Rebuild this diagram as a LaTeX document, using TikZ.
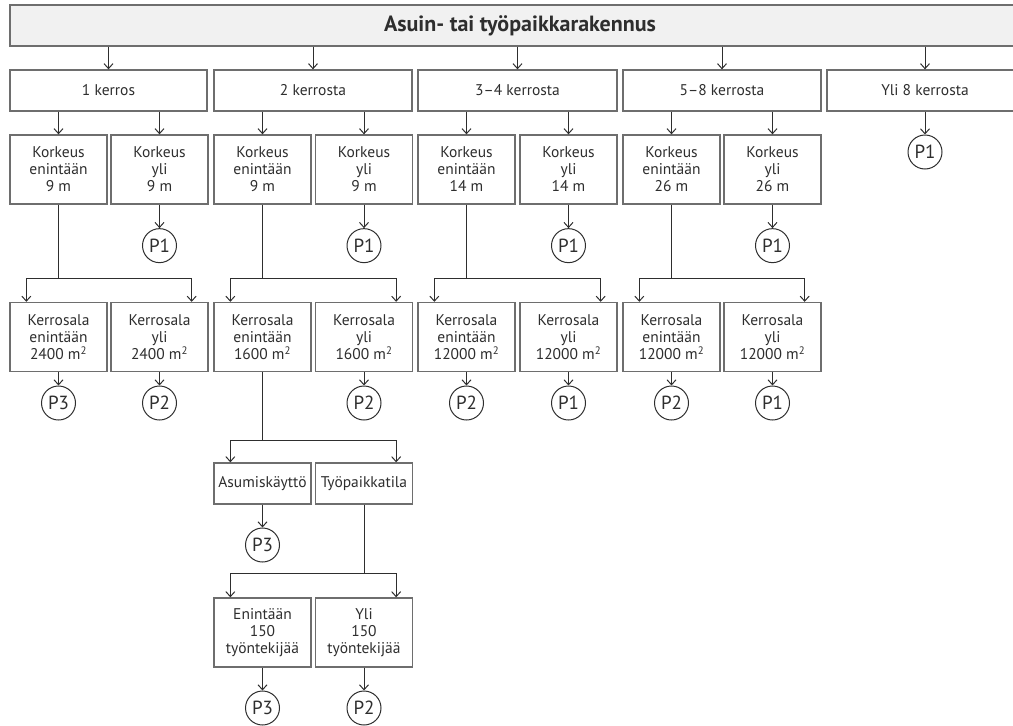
\documentclass[tikz,border=0pt]{standalone}
\usepackage{fontspec}
\setmainfont{PT Sans}
\usepackage{xcolor}
\usetikzlibrary{arrows.meta,positioning}
\definecolor{ink}{HTML}{2E2E2E}
\definecolor{frame}{HTML}{6E6E6E}
\definecolor{bar}{HTML}{F1F1F1}

\begin{document}
\begin{tikzpicture}[x=1pt, y=-1pt, font=\fontsize{15.5}{17}\selectfont, text=ink,
  box/.style={draw=frame, line width=1.3pt, fill=white, align=center, inner sep=0pt,
    minimum width=97pt, minimum height=69pt},
  lowbox/.style={box, minimum height=41pt},
  pcirc/.style={draw=ink, line width=1pt, circle, minimum size=34pt, inner sep=0pt,
    font=\fontsize{19}{19}\selectfont},
  conn/.style={draw=ink, line width=1pt},
  arr/.style={conn, -{Straight Barb[length=5pt,width=9pt]}}]
\useasboundingbox (0,0) rectangle (1013,726);

\node[lowbox, fill=bar, minimum width=1020pt] (top) at (520,25.5)
  {\bfseries\fontsize{22}{22}\selectfont Asuin- tai työpaikkarakennus};

\node[lowbox, minimum width=197pt] (k1) at (108.5,90.5) {1 kerros};
\node[lowbox, minimum width=198pt] (k2) at (313,90.5) {2 kerrosta};
\node[lowbox, minimum width=199pt] (k3) at (517.5,90.5) {3–4 kerrosta};
\node[lowbox, minimum width=198pt] (k4) at (722,90.5) {5–8 kerrosta};
\node[lowbox, minimum width=196pt] (k5) at (925,90.5) {Yli 8 kerrosta};
\foreach \n in {k1,k2,k3,k4,k5} \draw[arr] (top.south -| \n.north) -- (\n.north);

\node[box] (hA1) at (58.5,169.5) {Korkeus\\enintään\\9 m};
\node[box] (hB1) at (159.5,169.5) {Korkeus\\yli\\9 m};
\node[box] (hA2) at (262.5,169.5) {Korkeus\\enintään\\9 m};
\node[box] (hB2) at (364,169.5) {Korkeus\\yli\\9 m};
\node[box] (hA3) at (466.5,169.5) {Korkeus\\enintään\\14 m};
\node[box] (hB3) at (568.5,169.5) {Korkeus\\yli\\14 m};
\node[box] (hA4) at (671.5,169.5) {Korkeus\\enintään\\26 m};
\node[box] (hB4) at (772.5,169.5) {Korkeus\\yli\\26 m};

\node[box] (sA1) at (58.5,337) {Kerrosala\\enintään\\2400 m\textsuperscript{2}};
\node[box] (sB1) at (159.5,337) {Kerrosala\\yli\\2400 m\textsuperscript{2}};
\node[box] (sA2) at (262.5,337) {Kerrosala\\enintään\\1600 m\textsuperscript{2}};
\node[box] (sB2) at (364,337) {Kerrosala\\yli\\1600 m\textsuperscript{2}};
\node[box] (sA3) at (466.5,337) {Kerrosala\\enintään\\12000 m\textsuperscript{2}};
\node[box] (sB3) at (568.5,337) {Kerrosala\\yli\\12000 m\textsuperscript{2}};
\node[box] (sA4) at (671.5,337) {Kerrosala\\enintään\\12000 m\textsuperscript{2}};
\node[box] (sB4) at (772.5,337) {Kerrosala\\yli\\12000 m\textsuperscript{2}};

\foreach \i in {1,...,4} {
  \draw[arr] (k\i.south -| hA\i.north) -- (hA\i.north);
  \draw[arr] (k\i.south -| hB\i.north) -- (hB\i.north);
  \node[pcirc] (pB\i) at ([yshift=-41pt]hB\i.south) {P1};
  \draw[arr] (hB\i.south) -- (pB\i.north);
  \draw[conn] (hA\i.south) -- ++(0,74) coordinate (j\i);
  \draw[arr] (j\i) -| ([xshift=17pt]sA\i.north west);
  \draw[arr] (j\i) -| ([xshift=-17pt]sB\i.north east);
}
\node[pcirc] (p5) at (925,152) {P1};
\draw[arr] (k5.south) -- (p5.north);

\node[pcirc] (qA1) at (58.5,403) {P3};
\node[pcirc] (qB1) at (159.5,403) {P2};
\node[pcirc] (qB2) at (364,403) {P2};
\node[pcirc] (qA3) at (466.5,403) {P2};
\node[pcirc] (qB3) at (568.5,403) {P1};
\node[pcirc] (qA4) at (671.5,403) {P2};
\node[pcirc] (qB4) at (772.5,403) {P1};
\foreach \n in {A1,B1,B2,A3,B3,A4,B4} \draw[arr] (s\n.south) -- (q\n.north);

\node[lowbox] (asu) at (262.5,483.5) {Asumiskäyttö};
\node[lowbox] (tyo) at (364,483.5) {Työpaikkatila};
\draw[conn] (sA2.south) -- ++(0,68) coordinate (j5);
\draw[arr] (j5) -| ([xshift=17pt]asu.north west);
\draw[arr] (j5) -| ([xshift=-17pt]tyo.north east);
\node[pcirc] (qAsu) at (262.5,545) {P3};
\draw[arr] (asu.south) -- (qAsu.north);

\node[box] (en150) at (262.5,632.5) {Enintään\\150\\työntekijää};
\node[box] (yli150) at (364,632.5) {Yli\\150\\työntekijää};
\draw[conn] (tyo.south) -- ++(0,69) coordinate (j6);
\draw[arr] (j6) -| ([xshift=17pt]en150.north west);
\draw[arr] (j6) -| ([xshift=-17pt]yli150.north east);
\node[pcirc] (qEn) at (262.5,708) {P3};
\node[pcirc] (qYli) at (364,708) {P2};
\draw[arr] (en150.south) -- (qEn.north);
\draw[arr] (yli150.south) -- (qYli.north);
\end{tikzpicture}
\end{document}
